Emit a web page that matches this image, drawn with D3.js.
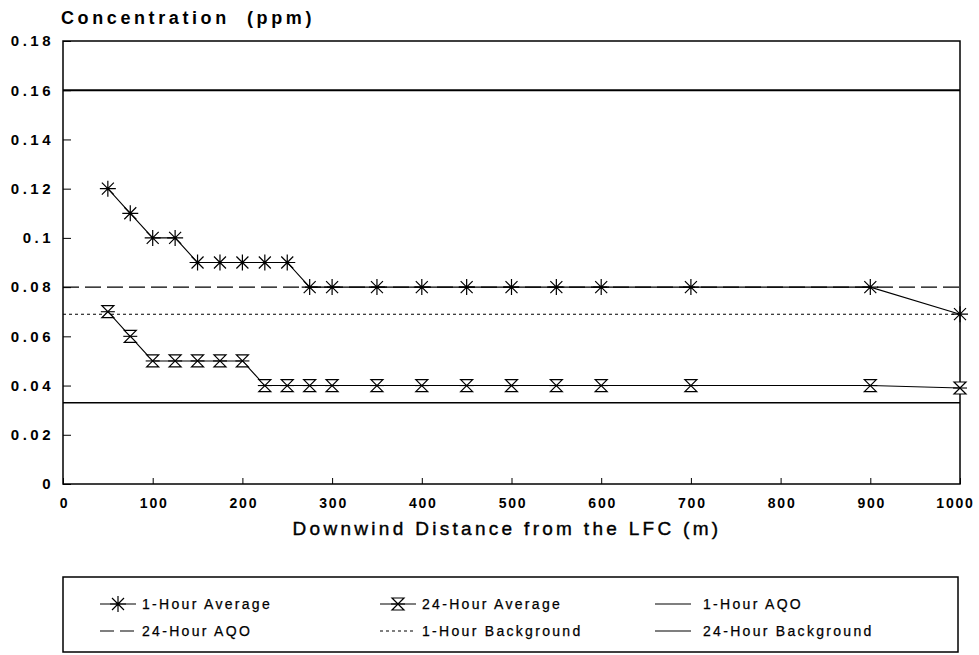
<!DOCTYPE html>
<html>
<head>
<meta charset="utf-8">
<script src="https://cdn.jsdelivr.net/npm/d3@7"></script>
<style>
  body { margin: 0; background: #fff; }
  text { font-family: "Liberation Sans", Arial, sans-serif; fill: #000; }
</style>
</head>
<body>
<div id="body"></div>
<script>
var dist1h = [50,75,100,125,150,175,200,225,250,275,300,350,400,450,500,550,600,700,900,1000];
var conc1h = [0.12,0.11,0.10,0.10,0.09,0.09,0.09,0.09,0.09,0.08,0.08,0.08,0.08,0.08,0.08,0.08,0.08,0.08,0.08,0.069];
var dist24h = [50,75,100,125,150,175,200,225,250,275,300,350,400,450,500,550,600,700,900,1000];
var conc24h = [0.07,0.06,0.05,0.05,0.05,0.05,0.05,0.04,0.04,0.04,0.04,0.04,0.04,0.04,0.04,0.04,0.04,0.04,0.04,0.039];
var aqo1h = 0.16, aqo24h = 0.08, bg1h = 0.069, bg24h = 0.033;
var xTicks = [0,100,200,300,400,500,600,700,800,900,1000];
var yTicks = [0,0.02,0.04,0.06,0.08,0.1,0.12,0.14,0.16,0.18];

var margin = {top: 41, right: 19, bottom: 171, left: 63},
    width = 979 - margin.left - margin.right,
    height = 655 - margin.top - margin.bottom;

var svg = d3.select("#body").append("svg")
    .attr("width", 979).attr("height", 655);
var g = svg.append("g")
    .attr("transform", "translate(" + margin.left + "," + margin.top + ")");

var x = d3.scaleLinear().domain([0, 1000]).range([0, width]);
var y = d3.scaleLinear().domain([0, 0.18]).range([height, 0]);

// frame
g.append("rect").attr("width", width).attr("height", height)
    .attr("fill", "none").attr("stroke", "#000").attr("stroke-width", 1.5);

// axes, ticks pointing inside
var yAxis = d3.axisLeft(y).tickValues(yTicks).tickSize(-8).tickPadding(9)
    .tickFormat(function(d) { return d === 0 ? "0" : String(+d.toFixed(2)); });
var xAxis = d3.axisBottom(x).tickValues(xTicks).tickSize(-6).tickPadding(14)
    .tickFormat(d3.format("d"));

g.append("g").attr("class", "y axis").call(yAxis)
    .call(function(s) { s.select(".domain").remove(); })
    .selectAll("text").style("font-size", "15px").style("font-weight", "bold")
    .attr("letter-spacing", "3.5px");
g.append("g").attr("class", "x axis").attr("transform", "translate(0," + height + ")").call(xAxis)
    .call(function(s) { s.select(".domain").remove(); })
    .selectAll("text").style("font-size", "14px").style("font-weight", "bold")
    .attr("letter-spacing", "1.8px")
    .attr("dx", function(d) { return d === 1000 ? "-5px" : "1px"; });
g.selectAll(".tick line").attr("stroke", "#000");

// reference lines
var refs = [
  {v: aqo1h, dash: null, w: 2},
  {v: aqo24h, dash: "16,6", w: 1.4},
  {v: bg1h, dash: "3,3", w: 1.1},
  {v: bg24h, dash: null, w: 1.5}
];
g.selectAll(".ref").data(refs).enter().append("line")
    .attr("x1", 0).attr("x2", width)
    .attr("y1", function(d) { return y(d.v); })
    .attr("y2", function(d) { return y(d.v); })
    .attr("stroke", "#000").attr("stroke-width", function(d) { return d.w; })
    .attr("stroke-dasharray", function(d) { return d.dash; });

var line = d3.line().x(function(d) { return x(d[0]); }).y(function(d) { return y(d[1]); });
var s1 = d3.zip(dist1h, conc1h), s24 = d3.zip(dist24h, conc24h);

g.append("path").datum(s1).attr("d", line).attr("fill", "none").attr("stroke", "#000").attr("stroke-width", 1.1);
g.append("path").datum(s24).attr("d", line).attr("fill", "none").attr("stroke", "#000").attr("stroke-width", 1.1);

function star(sel) {
  sel.append("path")
    .attr("d", "M-8,0H8M0,-8V8M-6,-6L6,6M-6,6L6,-6")
    .attr("stroke", "#000").attr("stroke-width", 1.2).attr("fill", "none");
}
function hourglass(sel) {
  sel.append("path")
    .attr("d", "M-6,-6H6L-6,6H6Z")
    .attr("stroke", "#000").attr("stroke-width", 1.2).attr("fill", "#fff");
  sel.append("path").attr("d", "M-7,0H7").attr("stroke", "#000").attr("stroke-width", 1.1);
}

g.selectAll(".m1").data(s1).enter().append("g")
    .attr("transform", function(d) { return "translate(" + x(d[0]) + "," + y(d[1]) + ")"; })
    .call(star);
g.selectAll(".m24").data(s24).enter().append("g")
    .attr("transform", function(d) { return "translate(" + x(d[0]) + "," + y(d[1]) + ")"; })
    .call(hourglass);

// titles
svg.append("text").attr("x", 61).attr("y", 24)
    .style("font-size", "18px").style("font-weight", "bold").style("white-space", "pre")
    .attr("letter-spacing", "3.6px")
    .text("Concentration  (ppm)");
svg.append("text").attr("x", 507).attr("y", 535)
    .attr("text-anchor", "middle")
    .style("font-size", "19px").attr("letter-spacing", "3.3px")
    .attr("stroke", "#000").attr("stroke-width", 0.4)
    .text("Downwind Distance from the LFC (m)");

// legend
var legend = svg.append("g");
legend.append("rect").attr("x", 63).attr("y", 577).attr("width", 895).attr("height", 75)
    .attr("fill", "none").attr("stroke", "#000").attr("stroke-width", 1.5);

var legItems = [
  {label: "1-Hour Average", type: "star", col: 0, row: 0},
  {label: "24-Hour Average", type: "hour", col: 1, row: 0},
  {label: "1-Hour AQO", type: "solid", col: 2, row: 0},
  {label: "24-Hour AQO", type: "dash", col: 0, row: 1},
  {label: "1-Hour Background", type: "dot", col: 1, row: 1},
  {label: "24-Hour Background", type: "solid", col: 2, row: 1}
];
var colX = [100, 380, 655], rowY = [604, 631];

legItems.forEach(function(d) {
  var lx = colX[d.col], ly = rowY[d.row];
  var it = legend.append("g").attr("transform", "translate(" + lx + "," + ly + ")");
  var dash = d.type === "dash" ? "14,6" : d.type === "dot" ? "3,3" : null;
  it.append("line").attr("x1", 0).attr("x2", 36).attr("y1", 0).attr("y2", 0)
      .attr("stroke", "#000").attr("stroke-width", 1.2).attr("stroke-dasharray", dash);
  if (d.type === "star") it.append("g").attr("transform", "translate(18,0)").call(star);
  if (d.type === "hour") it.append("g").attr("transform", "translate(18,0)").call(hourglass);
  it.append("text").attr("x", d.col === 2 ? 48 : 42).attr("y", 5)
      .style("font-size", "14px").attr("letter-spacing", "2.3px")
      .attr("stroke", "#000").attr("stroke-width", 0.25)
      .text(d.label);
});
</script>
</body>
</html>
